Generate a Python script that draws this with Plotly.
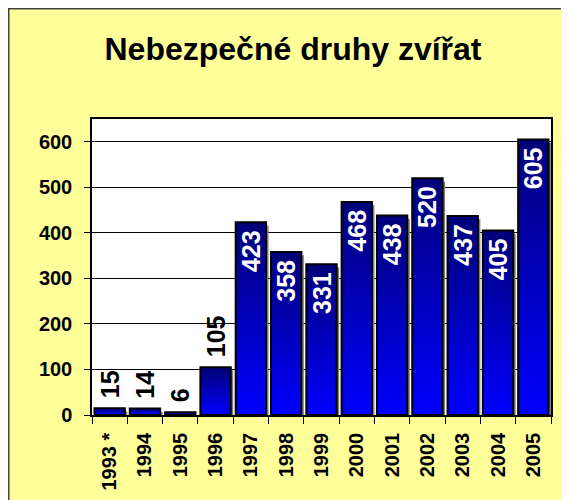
import plotly.graph_objects as go

# ---- data ----
years = ["1993 *", "1994", "1995", "1996", "1997", "1998", "1999",
         "2000", "2001", "2002", "2003", "2004", "2005"]
values = [15, 14, 6, 105, 423, 358, 331, 468, 438, 520, 437, 405, 605]
y_ticks = [0, 100, 200, 300, 400, 500, 600]
title_text = "Nebezpečné druhy zvířat"

# ---- styling ----
W, H = 569, 500
ML, MR, MT, MB = 84, 26, 111, 93
PW, PH = W - ML - MR, H - MT - MB
FONT = "Arial, 'Liberation Sans', sans-serif"
BARGAP = 0.14
HALF = (1 - BARGAP) / 2
YMAX = 650
SHADOW_DROP = 7  # in axis units (~3 px)

fig = go.Figure()

# drop shadows to the right of the bars
for i, v in enumerate(values):
    top = max(v - SHADOW_DROP, 0)
    fig.add_trace(go.Scatter(
        x=[i + HALF - 0.02, i + HALF - 0.02, i + 0.5, i + 0.5, i + HALF - 0.02],
        y=[0, top, top, 0, 0],
        mode="none", fill="toself", fillcolor="#7F7F7F",
        hoverinfo="skip", showlegend=False, xaxis="x", yaxis="y",
    ))

# gradient fills of the bars (per bar, dark navy at top -> bright blue at bottom)
for i, v in enumerate(values):
    fig.add_trace(go.Scatter(
        x=[i - HALF, i - HALF, i + HALF, i + HALF, i - HALF],
        y=[0, v, v, 0, 0],
        mode="none", fill="toself",
        fillgradient=dict(type="vertical",
                          colorscale=[[0, "#0000FF"], [1, "#000078"]]),
        hoverinfo="skip", showlegend=False,
        xaxis="x", yaxis="y",
    ))

# bars (outline + labels) on the overlaid axes
positions = ["outside" if v < 200 else "inside" for v in values]
colors = ["black" if p == "outside" else "white" for p in positions]
labels = [("\u00a0" + str(v)) if p == "outside" else (str(v) + "\u2009")
          for v, p in zip(values, positions)]
fig.add_trace(go.Bar(
    x=years, y=values, xaxis="x2", yaxis="y2",
    marker=dict(color="rgba(0,0,0,0)", line=dict(color="black", width=2)),
    text=labels,
    textposition=positions,
    insidetextanchor="end",
    textangle=-90,
    textfont=dict(family=FONT, size=25, weight=700, color=colors),
    constraintext="none",
    cliponaxis=False,
    showlegend=False,
))

def px_x(px):
    return (px - ML) / PW

def px_y(py):
    return (H - MB - py) / PH

fig.update_layout(
    width=W, height=H,
    margin=dict(l=ML, r=MR, t=MT, b=MB, pad=0, autoexpand=False),
    paper_bgcolor="#FFFF99",
    plot_bgcolor="white",
    bargap=BARGAP,
    showlegend=False,
    font=dict(family=FONT, color="black"),
    title=dict(text=title_text, x=285 / W, xref="container", xanchor="center",
               y=1 - 41 / H, yref="container", yanchor="middle",
               font=dict(family=FONT, size=32, weight=700, color="black")),
    shapes=[
        dict(type="rect", xref="paper", yref="paper", layer="above",
             x0=px_x(0), x1=px_x(W), y0=px_y(H), y1=px_y(0),
             fillcolor="rgba(0,0,0,0)", line=dict(color="#404040", width=3)),
    ],
    xaxis=dict(range=[-0.5, len(values) - 0.5], visible=False,
               fixedrange=True, automargin=False),
    yaxis=dict(range=[0, YMAX], tickvals=y_ticks, showgrid=True,
               gridcolor="black", gridwidth=1, zeroline=False,
               showline=True, linecolor="black", linewidth=1.5, mirror=True,
               ticks="outside", ticklen=6, tickwidth=1, tickcolor="black",
               ticklabelstandoff=8, automargin=False,
               tickfont=dict(family=FONT, size=20, weight=700, color="black")),
    xaxis2=dict(type="category", overlaying="x", anchor="y2",
                range=[-0.5, len(values) - 0.5],
                tickson="boundaries", ticks="outside", ticklen=7,
                tickwidth=1, tickcolor="black", tickangle=-90,
                showline=True, linecolor="black", linewidth=1.5, mirror=True,
                showgrid=False, ticklabelstandoff=8, automargin=False,
                tickfont=dict(family=FONT, size=20, weight=700, color="black")),
    yaxis2=dict(range=[0, YMAX], overlaying="y", anchor="x2",
                visible=False, showgrid=False, automargin=False),
)

fig.write_html("out.html")
